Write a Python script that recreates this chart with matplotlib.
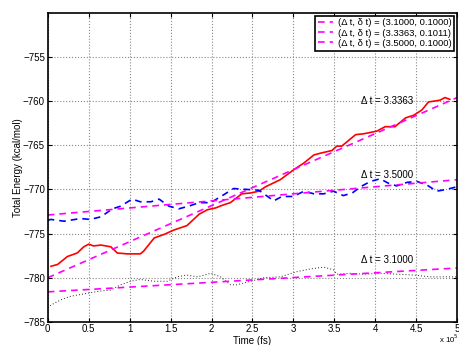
import matplotlib
matplotlib.use('Agg')
from matplotlib import pyplot as plt
import numpy as np

plt.rcParams['font.family'] = ['Liberation Sans', 'DejaVu Sans']
plt.rcParams['font.size'] = 7

# time in units of 1e5 fs
red_t = [0.04, 0.12, 0.24, 0.36, 0.44, 0.50, 0.56, 0.65, 0.77, 0.85, 0.97, 1.13, 1.17,
         1.30, 1.42, 1.54, 1.70, 1.85, 1.95, 2.05, 2.13, 2.23, 2.37, 2.48, 2.58, 2.66,
         2.84, 3.00, 3.13, 3.25, 3.33, 3.47, 3.53, 3.59, 3.76, 3.86, 4.02, 4.12, 4.24,
         4.37, 4.47, 4.57, 4.65, 4.79, 4.85, 4.91]
red_e = [-778.7, -778.5, -777.6, -777.2, -776.5, -776.2, -776.4, -776.3, -776.5, -777.2,
         -777.3, -777.3, -777.0, -775.5, -775.1, -774.6, -774.1, -772.8, -772.3, -772.1,
         -771.8, -771.5, -770.5, -770.4, -770.2, -769.7, -768.9, -767.8, -767.0, -766.1,
         -765.9, -765.6, -765.1, -765.1, -763.8, -763.7, -763.4, -762.9, -762.9, -761.9,
         -761.6, -761.0, -760.1, -759.9, -759.6, -759.8]

blue_t = [0.0, 0.04, 0.20, 0.40, 0.52, 0.65, 0.79, 0.89, 1.03, 1.13, 1.26, 1.36, 1.48,
          1.60, 1.72, 1.85, 1.99, 2.15, 2.27, 2.43, 2.58, 2.76, 2.86, 3.00, 3.13, 3.25,
          3.37, 3.49, 3.61, 3.72, 3.82, 3.94, 4.06, 4.16, 4.26, 4.39, 4.51, 4.63, 4.75,
          4.87, 5.00]
blue_e = [-773.5, -773.4, -773.6, -773.3, -773.4, -773.1, -772.2, -771.9, -771.1, -771.4,
          -771.4, -771.1, -771.9, -772.2, -771.9, -771.5, -771.5, -770.6, -769.9, -770.0,
          -770.1, -771.3, -770.8, -770.8, -770.2, -770.5, -770.5, -770.2, -770.7, -770.4,
          -769.7, -769.1, -768.8, -769.3, -769.6, -769.2, -769.1, -769.5, -770.2, -770.0,
          -769.7]

black_t = [0.0, 0.04, 0.16, 0.28, 0.40, 0.52, 0.65, 0.77, 0.89, 1.01, 1.13, 1.30, 1.46,
           1.58, 1.70, 1.83, 1.99, 2.11, 2.23, 2.31, 2.48, 2.64, 2.84, 2.98, 3.05, 3.21,
           3.37, 3.49, 3.53, 3.70, 3.86, 4.06, 4.26, 4.47, 4.67, 4.91, 5.00]
black_e = [-783.4, -783.1, -782.5, -782.1, -781.9, -781.7, -781.5, -781.4, -780.8, -780.4,
           -780.2, -780.4, -780.4, -779.9, -779.7, -779.9, -779.5, -779.9, -780.8, -780.8,
           -780.4, -780.0, -779.9, -779.5, -779.3, -779.0, -778.8, -779.1, -779.6, -779.5,
           -779.6, -779.5, -779.6, -779.7, -779.9, -779.9, -779.9]

# linear fits: (energy at t=0, energy at t=5)
fit_t = [0.0, 5.0]
fit_310 = [-781.6, -778.9]
fit_333 = [-780.0, -759.6]
fit_350 = [-772.9, -768.9]

fit_labels = ['(\u0394 t, \u03b4 t) = (3.1000, 0.1000)',
              '(\u0394 t, \u03b4 t) = (3.3363, 0.1011)',
              '(\u0394 t, \u03b4 t) = (3.5000, 0.1000)']
notes = ['\u0394 t = 3.3363', '\u0394 t = 3.5000', '\u0394 t = 3.1000']
note_y = [-760.0, -768.4, -778.0]

fig = plt.figure(figsize=(4.59, 3.45), dpi=100)
ax = fig.add_axes([0.104, 0.067, 0.892, 0.896])

ax.plot(black_t, black_e, color='#222222', linestyle=':', linewidth=0.7, dashes=(1, 2.2))
ax.plot(red_t, red_e, color='red', linestyle='-', linewidth=1.2)
ax.plot(blue_t, blue_e, color='blue', linestyle='--', linewidth=1.2, dashes=(4, 3))

magenta = '#ff00ff'
for fy, lab in zip([fit_310, fit_333, fit_350], fit_labels):
    ax.plot(fit_t, fy, color=magenta, linestyle='--', linewidth=1.2, dashes=(4, 3), label=lab)

for txt, y in zip(notes, note_y):
    ax.text(3.83, y, txt, fontsize=7, va='center', ha='left')

ax.set_xlim(0, 5)
ax.set_ylim(-785, -750)
ax.set_xticks(np.arange(0, 5.01, 0.5))
ax.set_xticklabels(['0', '0.5', '1', '1.5', '2', '2.5', '3', '3.5', '4', '4.5', '5'])
ax.set_yticks(np.arange(-785, -754, 5))
ax.set_yticklabels(['\u2212%d' % abs(v) for v in range(-785, -754, 5)])
ax.grid(True, linestyle=':', color='#888888', linewidth=0.8)
ax.tick_params(direction='in', length=3, width=0.8, top=True, right=True, pad=2)
ax.tick_params(axis='x', pad=1.5)
for s in ax.spines.values():
    s.set_linewidth(1.2)

ax.set_xlabel('Time (fs)', labelpad=1.5)
ax.set_ylabel('Total Energy (kcal/mol)', labelpad=0)
fig.text(0.999, 0.0, 'x 10$^5$', ha='right', va='bottom', fontsize=5.6)

leg = ax.legend(loc='upper right', fontsize=6.8, handlelength=1.6, borderpad=0.3,
                labelspacing=0.12, handletextpad=0.5, fancybox=False, framealpha=1,
                borderaxespad=0.3)
leg.get_frame().set_edgecolor('black')
leg.get_frame().set_linewidth(1.2)

fig.savefig('out.png', dpi=100)
